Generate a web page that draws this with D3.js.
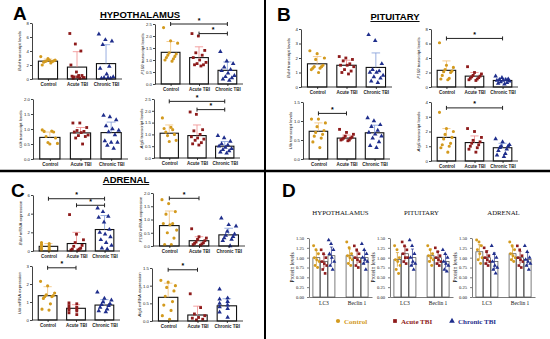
<!DOCTYPE html>
<html>
<head>
<meta charset="utf-8">
<script src="https://cdn.jsdelivr.net/npm/d3@7"></script>
<style>
  body { margin: 0; background: #fff; }
  svg { display: block; font-family: "Liberation Sans", Arial, sans-serif; }
</style>
</head>
<body>
<div id="fig"></div>
<script>
var groups = ["Control", "Acute TBI", "Chronic TBI"];
var colors = ["#D39A1E", "#8E1B1B", "#1F2E8C"];
var errColors = ["#F2C27A", "#F08A8A", "#7F9BD8"];

// ---- A: hypothalamus
var hypBdnfPts = [[3.2, 2.9, 2.7, 2.6, 2.6, 2.5, 2.5, 2.4, 2.3, 2.0, 2.7],
                  [6.5, 5.0, 4.0, 2.0, 1.0, 0.5, 0.4, 0.3, 0.2, 0.1, 0.5, 0.2, 0.3, 0.1],
                  [6.4, 5.6, 5.4, 4.9, 1.8, 1.5, 0.7, 0.3, 0.2, 0.1, 0.1, 0.2]];
var hypBdnfMean = [2.55, 1.7, 2.2];
var hypBdnfSd = [0.3, 2.2, 2.7];

var hypP150Pts = [[2.35, 1.8, 1.7, 1.3, 1.25, 1.2, 1.15, 1.1, 1.05, 1.0, 0.95],
                  [2.1, 2.0, 1.4, 1.3, 1.2, 1.1, 1.0, 0.9, 0.85, 0.8, 0.8, 0.75],
                  [1.35, 0.95, 0.85, 0.7, 0.6, 0.55, 0.45, 0.35, 0.3, 0.25, 0.2, 0.15]];
var hypP150Mean = [1.32, 1.1, 0.57];
var hypP150Sd = [0.45, 0.45, 0.35];
var hypP150Sig = [[0, 2, 2.5], [1, 2, 2.1]];

var hypUlkPts = [[0.97, 0.93, 0.92, 0.9, 0.75, 0.7, 0.55, 0.52, 0.5],
                 [1.2, 1.2, 1.05, 0.95, 0.92, 0.9, 0.88, 0.8, 0.78, 0.75, 0.7, 0.5],
                 [1.45, 1.4, 1.3, 1.1, 1.0, 0.95, 0.9, 0.8, 0.6, 0.55, 0.55, 0.45, 0.35]];
var hypUlkMean = [0.72, 0.87, 0.88];
var hypUlkSd = [0.18, 0.18, 0.35];

var hypAtg5Pts = [[1.7, 1.3, 1.25, 1.2, 1.1, 1.0, 0.95, 0.75, 0.7],
                  [1.95, 1.85, 1.2, 1.15, 1.0, 0.9, 0.85, 0.8, 0.75, 0.65, 0.6, 0.55],
                  [0.95, 0.85, 0.7, 0.6, 0.55, 0.5, 0.45, 0.4, 0.35, 0.3, 0.25, 0.2]];
var hypAtg5Mean = [1.05, 0.95, 0.5];
var hypAtg5Sd = [0.35, 0.45, 0.2];
var hypAtg5Sig = [[0, 2, 2.4], [1, 2, 2.05]];

// ---- B: pituitary
var pitBdnfPts = [[2.5, 2.3, 2.0, 1.9, 1.5, 1.4, 1.4, 1.3, 1.3, 1.2, 1.0],
                  [2.1, 2.0, 1.9, 1.8, 1.6, 1.5, 1.5, 1.4, 1.2, 1.1, 1.0, 0.9],
                  [3.6, 3.2, 1.6, 1.2, 1.1, 1.0, 1.0, 0.8, 0.7, 0.6, 0.4, 0.3]];
var pitBdnfMean = [1.6, 1.5, 1.35];
var pitBdnfSd = [0.5, 0.35, 1.0];

var pitP150Pts = [[6.1, 3.0, 2.7, 2.4, 2.2, 2.1, 2.0, 1.6, 1.2, 1.1, 1.0],
                  [2.8, 2.0, 1.8, 1.6, 1.5, 1.4, 1.3, 1.2, 1.1, 1.0, 0.9],
                  [1.5, 1.3, 1.1, 1.0, 1.0, 0.9, 0.9, 0.8, 0.7, 0.6, 0.5, 0.4]];
var pitP150Mean = [2.3, 1.5, 0.9];
var pitP150Sd = [1.3, 0.5, 0.3];
var pitP150Sig = [[0, 2, 6.7]];

var pitUlkPts = [[1.05, 1.05, 0.95, 0.85, 0.75, 0.7, 0.65, 0.6, 0.55, 0.45, 0.3],
                 [0.78, 0.7, 0.65, 0.6, 0.58, 0.55, 0.55, 0.52, 0.5, 0.5, 0.48],
                 [1.08, 1.0, 0.9, 0.85, 0.75, 0.7, 0.65, 0.6, 0.55, 0.45, 0.35, 0.3]];
var pitUlkMean = [0.73, 0.55, 0.69];
var pitUlkSd = [0.22, 0.08, 0.2];
var pitUlkSig = [[0, 1, 1.2]];

var pitAtg5Pts = [[3.3, 2.2, 2.0, 1.8, 1.6, 1.5, 1.2, 1.1, 1.0, 0.9, 0.6],
                  [2.2, 2.0, 1.6, 1.4, 1.3, 1.2, 1.1, 1.0, 0.9, 0.8, 0.6],
                  [1.5, 1.3, 1.1, 1.0, 1.0, 0.9, 0.8, 0.7, 0.5, 0.4, 0.3]];
var pitAtg5Mean = [1.6, 1.25, 0.9];
var pitAtg5Sd = [0.6, 0.45, 0.3];
var pitAtg5Sig = [[0, 2, 3.6]];

// ---- C: adrenal
var adrBdnfPts = [[0.9, 0.8, 0.7, 0.6, 0.5, 0.4, 0.3, 0.2, 0.1, 0.05],
                  [3.9, 1.8, 1.2, 0.9, 0.6, 0.5, 0.3, 0.2, 0.2, 0.1, 0.1],
                  [4.6, 4.2, 3.7, 3.6, 3.1, 2.3, 2.0, 1.8, 1.5, 1.2, 0.9, 0.6, 0.3, 0.2]];
var adrBdnfMean = [0.5, 0.8, 2.3];
var adrBdnfSd = [0.3, 1.2, 1.5];
var adrBdnfSig = [[0, 2, 5.6], [1, 2, 4.9]];

var adrP150Pts = [[1.75, 1.6, 1.3, 1.2, 0.85, 0.85, 0.8, 0.6, 0.5, 0.3, 0.05, 0.05],
                  [0.65, 0.35, 0.3, 0.25, 0.2, 0.15, 0.12, 0.1, 0.08, 0.05, 0.03],
                  [1.05, 0.8, 0.75, 0.55, 0.45, 0.4, 0.35, 0.3, 0.25, 0.2, 0.0]];
var adrP150Mean = [0.77, 0.2, 0.42];
var adrP150Sd = [0.55, 0.15, 0.25];
var adrP150Sig = [[0, 1, 1.8]];

var adrUlkPts = [[2.15, 1.9, 1.5, 1.4, 1.35, 1.3, 1.3, 1.2, 0.9, 0.6, 0.55],
                 [0.95, 0.9, 0.8, 0.7, 0.65, 0.6, 0.55, 0.5, 0.4, 0.3],
                 [1.55, 1.2, 1.1, 1.0, 0.9, 0.85, 0.8, 0.7, 0.6, 0.5, 0.45]];
var adrUlkMean = [1.35, 0.65, 0.83];
var adrUlkSd = [0.5, 0.2, 0.3];
var adrUlkSig = [[0, 1, 2.9]];

var adrAtg5Pts = [[1.15, 1.1, 1.0, 0.95, 0.85, 0.7, 0.55, 0.45, 0.3, 0.15, 0.05],
                  [0.77, 0.38, 0.2, 0.15, 0.1, 0.08, 0.05, 0.03],
                  [0.9, 0.65, 0.62, 0.55, 0.5, 0.45, 0.4, 0.35, 0.25, 0.1]];
var adrAtg5Mean = [0.67, 0.17, 0.43];
var adrAtg5Sd = [0.4, 0.25, 0.2];
var adrAtg5Sig = [[0, 1, 1.45]];

// ---- D: protein levels
var proteins = ["LC3", "Beclin 1"];
var dRegions = ["HYPOTHALAMUS", "PITUITARY", "ADRENAL"];
var dHypMean = [[1.0, 0.9, 1.05], [1.05, 1.0, 1.0]];
var dHypPts = [[[1.3, 1.2, 1.1, 1.0, 0.95, 0.9, 0.8, 0.75], [1.2, 1.1, 1.0, 0.9, 0.85, 0.8, 0.7, 0.6], [1.45, 1.35, 1.2, 1.1, 1.0, 0.9, 0.8, 0.7]],
               [[1.4, 1.25, 1.1, 1.05, 1.0, 0.95, 0.85, 0.8], [1.3, 1.2, 1.1, 1.0, 0.95, 0.9, 0.8, 0.75], [1.35, 1.2, 1.1, 1.0, 0.95, 0.9, 0.85, 0.7]]];
var dPitMean = [[0.95, 1.1, 1.0], [1.05, 1.0, 0.9]];
var dPitPts = [[[1.3, 1.2, 1.0, 0.95, 0.9, 0.8, 0.7, 0.6], [1.4, 1.3, 1.2, 1.1, 1.0, 1.0, 0.9, 0.85], [1.45, 1.3, 1.1, 1.0, 0.9, 0.85, 0.8, 0.7]],
               [[1.3, 1.2, 1.1, 1.05, 1.0, 0.95, 0.9, 0.8], [1.25, 1.15, 1.05, 1.0, 0.95, 0.9, 0.85, 0.8], [1.2, 1.1, 1.0, 0.9, 0.85, 0.8, 0.7, 0.65]]];
var dAdrMean = [[1.15, 1.0, 0.9], [1.1, 1.0, 0.95]];
var dAdrPts = [[[1.45, 1.4, 1.3, 1.2, 1.1, 1.0, 0.95, 0.85], [1.25, 1.15, 1.05, 1.0, 0.95, 0.9, 0.85, 0.8], [1.3, 1.1, 1.0, 0.9, 0.8, 0.75, 0.7, 0.6]],
               [[1.4, 1.3, 1.2, 1.1, 1.05, 1.0, 0.95, 0.9], [1.3, 1.2, 1.05, 1.0, 0.95, 0.9, 0.8, 0.75], [1.3, 1.15, 1.0, 0.95, 0.9, 0.85, 0.8, 0.7]]];
var dSd = [[0.18, 0.18, 0.22], [0.17, 0.16, 0.18]];

var symTypes = [d3.symbolCircle, d3.symbolSquare, d3.symbolTriangle];

var svg = d3.select("#fig").append("svg")
  .attr("width", 550)
  .attr("height", 339);

function drawPlot(p) {
  var y = d3.scaleLinear().domain([0, p.yMax]).range([p.yBot, p.yTop]);
  var x = d3.scalePoint().domain(groups).range([p.x0, p.x1]).padding(0.55);
  var bw = x.step() * 0.66;
  var g = svg.append("g");

  g.selectAll("rect.bar")
    .data(p.mean)
    .enter()
    .append("rect")
    .attr("class", "bar")
    .attr("x", function(d, i) { return x(groups[i]) - bw / 2; })
    .attr("y", function(d) { return y(d); })
    .attr("width", bw)
    .attr("height", function(d) { return p.yBot - y(d); })
    .attr("fill", "#fff")
    .attr("stroke", "#111")
    .attr("stroke-width", 1.1);

  // error bars (mean + sd)
  p.mean.forEach(function(m, i) {
    var cx = x(groups[i]);
    var top = y(m + p.sd[i]);
    g.append("line").attr("x1", cx).attr("x2", cx).attr("y1", y(m)).attr("y2", top)
      .attr("stroke", errColors[i]).attr("stroke-width", 0.8);
    g.append("line").attr("x1", cx - bw * 0.22).attr("x2", cx + bw * 0.22).attr("y1", top).attr("y2", top)
      .attr("stroke", errColors[i]).attr("stroke-width", 0.8);
  });

  // points
  p.pts.forEach(function(arr, i) {
    var n = arr.length;
    g.selectAll(null)
      .data(arr)
      .enter()
      .append("path")
      .attr("d", d3.symbol().type(symTypes[i]).size(i == 2 ? 9 : 8))
      .attr("transform", function(d, j) {
        var off = ((((j * 5) % n) / Math.max(n - 1, 1)) - 0.5) * bw * 0.75;
        return "translate(" + (x(groups[i]) + off) + "," + y(d) + ")";
      })
      .attr("fill", colors[i]);
  });

  var yAxis = d3.axisLeft(y).tickValues(p.ticks).tickFormat(d3.format(p.fmt)).tickSize(2).tickSizeOuter(0);
  var ya = g.append("g").attr("transform", "translate(" + p.x0 + ",0)").call(yAxis);
  ya.selectAll("text").attr("font-size", 4.3).attr("fill", "#222").attr("x", -3);
  ya.selectAll("line,path").attr("stroke", "#111").attr("stroke-width", 0.8);

  var xAxis = d3.axisBottom(x).tickSize(2).tickSizeOuter(0);
  var xa = g.append("g").attr("transform", "translate(0," + p.yBot + ")").call(xAxis);
  xa.select("path").attr("d", "M" + p.x0 + ",0H" + p.x1);
  xa.selectAll("text").attr("font-size", 4.5).attr("font-weight", "bold").attr("fill", "#222").attr("y", 4);
  xa.selectAll("line,path").attr("stroke", "#111").attr("stroke-width", 0.8);

  var lbl = g.append("text")
    .attr("transform", "translate(" + (p.x0 - 11) + "," + ((p.yTop + p.yBot) / 2) + ") rotate(-90)")
    .attr("text-anchor", "middle")
    .attr("font-size", 4.3)
    .attr("fill", "#222");
  lbl.append("tspan").attr("font-style", "italic").text(p.gene);
  lbl.append("tspan").text(" " + p.label);

  (p.sig || []).forEach(function(s) {
    var xa1 = x(groups[s[0]]), xa2 = x(groups[s[1]]), yy = y(s[2]);
    g.append("path")
      .attr("d", "M" + xa1 + "," + (yy - 2) + "V" + (yy + 2) + "M" + xa1 + "," + yy + "H" + xa2 + "M" + xa2 + "," + (yy - 2) + "V" + (yy + 2))
      .attr("fill", "none").attr("stroke", "#222").attr("stroke-width", 1);
    g.append("text").attr("x", (xa1 + xa2) / 2).attr("y", yy - 1.5)
      .attr("text-anchor", "middle").attr("font-size", 7).attr("font-weight", "bold").text("*");
  });
}

var tr = "transcript levels", mr = "mRNA expression";
var plots = [
  {x0: 32, x1: 122, yTop: 23, yBot: 79, yMax: 8, ticks: [0, 2, 4, 6, 8], fmt: "d", gene: "Bdnf", label: tr, pts: hypBdnfPts, mean: hypBdnfMean, sd: hypBdnfSd},
  {x0: 155, x1: 243, yTop: 24, yBot: 84, yMax: 2.5, ticks: [0, 0.5, 1, 1.5, 2, 2.5], fmt: ".1f", gene: "P150", label: tr, pts: hypP150Pts, mean: hypP150Mean, sd: hypP150Sd, sig: hypP150Sig},
  {x0: 33, x1: 128, yTop: 99, yBot: 159, yMax: 2, ticks: [0, 0.5, 1, 1.5, 2], fmt: ".1f", gene: "Ulk", label: tr, pts: hypUlkPts, mean: hypUlkMean, sd: hypUlkSd},
  {x0: 154, x1: 240, yTop: 99, yBot: 158, yMax: 2.5, ticks: [0, 0.5, 1, 1.5, 2, 2.5], fmt: ".1f", gene: "Atg5", label: tr, pts: hypAtg5Pts, mean: hypAtg5Mean, sd: hypAtg5Sd, sig: hypAtg5Sig},
  {x0: 301, x1: 392, yTop: 29, yBot: 87, yMax: 4, ticks: [0, 1, 2, 3, 4], fmt: "d", gene: "Bdnf", label: tr, pts: pitBdnfPts, mean: pitBdnfMean, sd: pitBdnfSd},
  {x0: 431, x1: 518, yTop: 29, yBot: 87, yMax: 8, ticks: [0, 2, 4, 6, 8], fmt: "d", gene: "P150", label: tr, pts: pitP150Pts, mean: pitP150Mean, sd: pitP150Sd, sig: pitP150Sig},
  {x0: 303, x1: 390, yTop: 102, yBot: 159, yMax: 1.5, ticks: [0, 0.5, 1, 1.5], fmt: ".1f", gene: "Ulk", label: tr, pts: pitUlkPts, mean: pitUlkMean, sd: pitUlkSd, sig: pitUlkSig},
  {x0: 431, x1: 518, yTop: 102, yBot: 161, yMax: 4, ticks: [0, 1, 2, 3, 4], fmt: "d", gene: "Atg5", label: tr, pts: pitAtg5Pts, mean: pitAtg5Mean, sd: pitAtg5Sd, sig: pitAtg5Sig},
  {x0: 33, x1: 120, yTop: 195, yBot: 251, yMax: 6, ticks: [0, 2, 4, 6], fmt: "d", gene: "Bdnf", label: mr, pts: adrBdnfPts, mean: adrBdnfMean, sd: adrBdnfSd, sig: adrBdnfSig},
  {x0: 153, x1: 245, yTop: 193, yBot: 246, yMax: 2, ticks: [0, 0.5, 1, 1.5, 2], fmt: ".1f", gene: "P150", label: mr, pts: adrP150Pts, mean: adrP150Mean, sd: adrP150Sd, sig: adrP150Sig},
  {x0: 32, x1: 120, yTop: 266, yBot: 320, yMax: 3, ticks: [0, 1, 2, 3], fmt: "d", gene: "Ulk", label: mr, pts: adrUlkPts, mean: adrUlkMean, sd: adrUlkSd, sig: adrUlkSig},
  {x0: 152, x1: 243, yTop: 268, yBot: 321, yMax: 1.5, ticks: [0, 0.5, 1, 1.5], fmt: ".1f", gene: "Atg5", label: mr, pts: adrAtg5Pts, mean: adrAtg5Mean, sd: adrAtg5Sd, sig: adrAtg5Sig}
];
plots.forEach(drawPlot);

// panel D
function drawProtein(p) {
  var y = d3.scaleLinear().domain([0, 1.5]).range([p.yBot, p.yTop]);
  var x = d3.scaleBand().domain(proteins).range([p.x0, p.x1]).paddingInner(0.3).paddingOuter(0.1);
  var xi = d3.scaleBand().domain(groups).range([0, x.bandwidth()]).padding(0.08);
  var g = svg.append("g").attr("font-family", "'Liberation Serif', 'Times New Roman', serif");

  g.append("text").attr("x", (p.x0 + p.x1) / 2).attr("y", p.titleY)
    .attr("text-anchor", "middle").attr("font-size", 6.8).attr("fill", "#111").text(p.title);

  proteins.forEach(function(pr, k) {
    groups.forEach(function(gr, i) {
      var bx = x(pr) + xi(gr), m = p.mean[k][i];
      g.append("rect").attr("x", bx).attr("y", y(m)).attr("width", xi.bandwidth())
        .attr("height", p.yBot - y(m)).attr("fill", "#fff").attr("stroke", "#444").attr("stroke-width", 0.7);
      var cx = bx + xi.bandwidth() / 2;
      g.append("line").attr("x1", cx).attr("x2", cx).attr("y1", y(m - dSd[k][i])).attr("y2", y(m + dSd[k][i]))
        .attr("stroke", colors[i]).attr("stroke-width", 0.7);
      g.append("line").attr("x1", cx - 1.5).attr("x2", cx + 1.5).attr("y1", y(m + dSd[k][i])).attr("y2", y(m + dSd[k][i]))
        .attr("stroke", colors[i]).attr("stroke-width", 0.7);
      var arr = p.pts[k][i], n = arr.length;
      g.selectAll(null).data(arr).enter().append("path")
        .attr("d", d3.symbol().type(symTypes[i]).size(7))
        .attr("transform", function(d, j) {
          var off = ((((j * 3) % n) / (n - 1)) - 0.5) * xi.bandwidth() * 0.8;
          return "translate(" + (cx + off) + "," + y(d) + ")";
        })
        .attr("fill", colors[i]);
    });
  });

  var ya = g.append("g").attr("transform", "translate(" + p.x0 + ",0)")
    .call(d3.axisLeft(y).tickValues([0, 0.25, 0.5, 0.75, 1, 1.25, 1.5]).tickFormat(d3.format(".2f")).tickSize(2).tickSizeOuter(0));
  ya.selectAll("text").attr("font-size", 4.6).attr("fill", "#222").attr("font-family", "'Liberation Serif', serif");
  ya.selectAll("line,path").attr("stroke", "#222").attr("stroke-width", 0.6);

  var xa = g.append("g").attr("transform", "translate(0," + p.yBot + ")")
    .call(d3.axisBottom(x).tickSize(0).tickSizeOuter(0));
  xa.selectAll("text").attr("font-size", 5.5).attr("fill", "#111").attr("y", 4).attr("font-family", "'Liberation Serif', serif");
  xa.select("path").attr("stroke", "#222").attr("stroke-width", 0.6);

  g.append("text")
    .attr("transform", "translate(" + (p.x0 - 15) + "," + ((p.yTop + p.yBot) / 2) + ") rotate(-90)")
    .attr("text-anchor", "middle").attr("font-size", 5.5).attr("fill", "#111").text("Protein levels");
}

[
  {x0: 309, x1: 372, title: dRegions[0], mean: dHypMean, pts: dHypPts},
  {x0: 390, x1: 453, title: dRegions[1], mean: dPitMean, pts: dPitPts},
  {x0: 472, x1: 535, title: dRegions[2], mean: dAdrMean, pts: dAdrPts}
].forEach(function(p) {
  p.yTop = 238; p.yBot = 297; p.titleY = 215;
  drawProtein(p);
});

// legend
var legX = [338, 395, 452];
groups.forEach(function(gr, i) {
  svg.append("path").attr("d", d3.symbol().type(symTypes[i]).size(14))
    .attr("transform", "translate(" + legX[i] + ",321)").attr("fill", colors[i]);
  svg.append("text").attr("x", legX[i] + 6).attr("y", 323.5)
    .attr("font-family", "'Liberation Serif', serif").attr("font-weight", "bold")
    .attr("font-size", 7).attr("fill", colors[i]).text(gr);
});

// panel letters and titles
[["A", 13, 20], ["B", 277, 21], ["C", 11, 197], ["D", 282, 197]].forEach(function(t) {
  svg.append("text").attr("x", t[1]).attr("y", t[2])
    .attr("font-size", 19).attr("font-weight", "bold").text(t[0]);
});
[["HYPOTHALAMUS", 140, 18], ["PITUITARY", 395, 20], ["ADRENAL", 126, 183]].forEach(function(t) {
  svg.append("text").attr("x", t[1]).attr("y", t[2]).attr("text-anchor", "middle")
    .attr("font-size", 9.5).attr("font-weight", "bold").attr("text-decoration", "underline").text(t[0]);
});

// panel separators
svg.append("line").attr("x1", 265).attr("x2", 265).attr("y1", 0).attr("y2", 339).attr("stroke", "#000").attr("stroke-width", 2);
svg.append("line").attr("x1", 0).attr("x2", 550).attr("y1", 171).attr("y2", 171).attr("stroke", "#000").attr("stroke-width", 2.5);
</script>
</body>
</html>
